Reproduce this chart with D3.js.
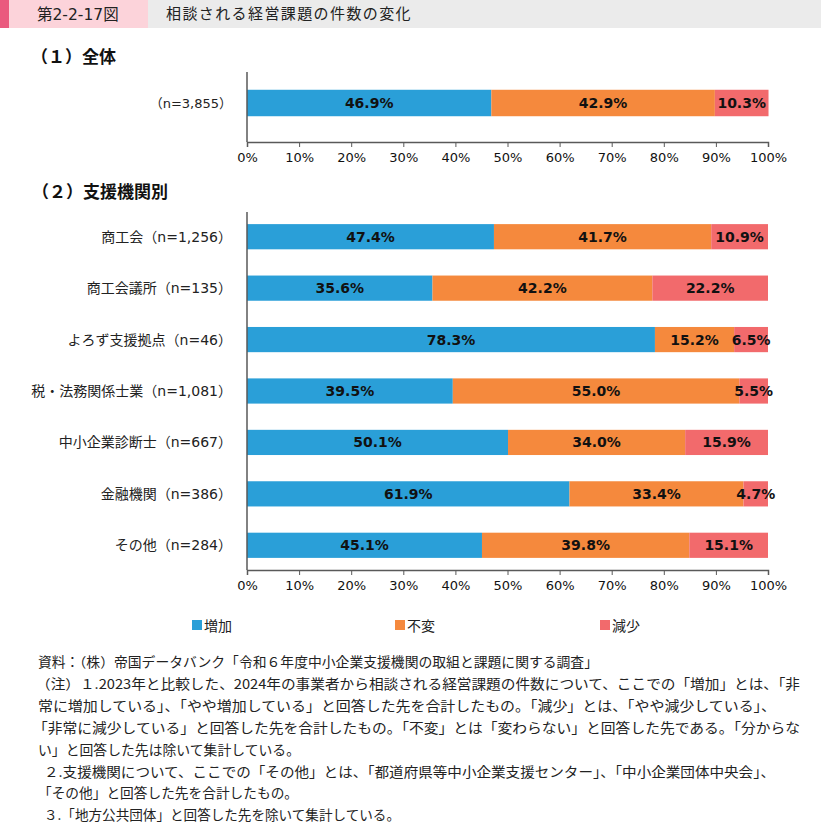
<!DOCTYPE html>
<html>
<head>
<meta charset="utf-8">
<script src="https://cdn.jsdelivr.net/npm/d3@7"></script>
<style>
  body { margin: 0; background: #fff; }
  svg text { font-family: "Noto Sans CJK JP", sans-serif; }
  svg text.num { font-family: "DejaVu Sans", Verdana, sans-serif; }
  svg text.mix { font-family: "DejaVu Sans", "Noto Sans CJK JP", sans-serif; }
</style>
</head>
<body>
<div id="chart"></div>
<script>
// data
var seriesNames = ["増加", "不変", "減少"];
var seriesColors = ["#2a9fd8", "#f5893d", "#f26a6c"];

var totalLabel = ["（n=3,855）"];
var totalInc = [46.9];
var totalSame = [42.9];
var totalDec = [10.3];

var orgLabels = ["商工会（n=1,256）", "商工会議所（n=135）", "よろず支援拠点（n=46）",
  "税・法務関係士業（n=1,081）", "中小企業診断士（n=667）", "金融機関（n=386）", "その他（n=284）"];
var orgInc = [47.4, 35.6, 78.3, 39.5, 50.1, 61.9, 45.1];
var orgSame = [41.7, 42.2, 15.2, 55.0, 34.0, 33.4, 39.8];
var orgDec = [10.9, 22.2, 6.5, 5.5, 15.9, 4.7, 15.1];

var tickValues = [0, 10, 20, 30, 40, 50, 60, 70, 80, 90, 100];

var notes = [
  "資料：（株）帝国データバンク「令和６年度中小企業支援機関の取組と課題に関する調査」",
  "（注）１.2023年と比較した、2024年の事業者から相談される経営課題の件数について、ここでの「増加」とは、「非",
  "常に増加している」、「やや増加している」と回答した先を合計したもの。「減少」とは、「やや減少している」、",
  "「非常に減少している」と回答した先を合計したもの。「不変」とは「変わらない」と回答した先である。「分からな",
  "い」と回答した先は除いて集計している。",
  "２.支援機関について、ここでの「その他」とは、「都道府県等中小企業支援センター」、「中小企業団体中央会」、",
  "「その他」と回答した先を合計したもの。",
  "３.「地方公共団体」と回答した先を除いて集計している。"
];

var W = 821, H = 824;
var svg = d3.select("#chart").append("svg")
  .attr("width", W).attr("height", H);

// header band
svg.append("rect").attr("x", 0).attr("y", 0).attr("width", W).attr("height", 28).attr("fill", "#ebebeb");
svg.append("rect").attr("x", 0).attr("y", 0).attr("width", 148).attr("height", 28).attr("fill", "#fcd3da");
svg.append("rect").attr("x", 0).attr("y", 0).attr("width", 9).attr("height", 28).attr("fill", "#ea5a7e");
svg.append("text").attr("class", "mix").attr("x", 37).attr("y", 19.5).attr("font-size", 15.5)
  .attr("fill", "#222").text("第2-2-17図");
svg.append("text").attr("x", 166).attr("y", 19).attr("font-size", 15).attr("letter-spacing", 1.4)
  .attr("fill", "#222").text("相談される経営課題の件数の変化");

svg.append("text").attr("x", 31).attr("y", 63).attr("font-size", 17).attr("font-weight", "bold")
  .attr("fill", "#111").text("（１）全体");
svg.append("text").attr("x", 32).attr("y", 198).attr("font-size", 17).attr("font-weight", "bold")
  .attr("fill", "#111").text("（２）支援機関別");

var x = d3.scaleLinear().domain([0, 100]).range([247, 768]);

function drawPanel(labels, inc, same, dec, yRange, axisTop, axisY) {
  var rows = labels.map(function(l, i) {
    return { label: l, vals: [inc[i], same[i], dec[i]] };
  });
  var y = d3.scaleBand().domain(labels).range(yRange).paddingInner(0.51).paddingOuter(0.255);
  var g = svg.append("g");

  rows.forEach(function(r) {
    var start = 0;
    r.vals.forEach(function(v, k) {
      g.append("rect")
        .attr("x", x(start)).attr("y", y(r.label))
        .attr("width", x(start + v) - x(start)).attr("height", y.bandwidth())
        .attr("fill", seriesColors[k]);
      g.append("text").attr("class", "num")
        .attr("x", x(start + v / 2)).attr("y", y(r.label) + y.bandwidth() / 2 + 5)
        .attr("text-anchor", "middle").attr("font-size", 14).attr("font-weight", "bold")
        .attr("fill", "#111").text(v.toFixed(1) + "%");
      start += v;
    });
    g.append("text").attr("class", "mix")
      .attr("x", 232).attr("y", y(r.label) + y.bandwidth() / 2 + 5)
      .attr("text-anchor", "end").attr("font-size", labels.length > 1 ? 14 : 13)
      .attr("fill", "#222").text(r.label);
  });

  // vertical axis line
  g.append("line").attr("x1", 247).attr("x2", 247).attr("y1", axisTop).attr("y2", axisY)
    .attr("stroke", "#595959").attr("stroke-width", 1.5);

  var ax = g.append("g").attr("transform", "translate(0," + axisY + ")")
    .call(d3.axisBottom(x).tickValues(tickValues).tickSize(5).tickFormat(function(d) { return d + "%"; }));
  ax.select(".domain").attr("stroke", "#595959").attr("stroke-width", 1.5);
  ax.selectAll(".tick line").attr("stroke", "#595959");
  ax.selectAll(".tick text").attr("class", "num").attr("font-size", 13).attr("fill", "#111").attr("dy", "0.9em");
}

drawPanel(totalLabel, totalInc, totalSame, totalDec, [76, 130], 72, 142);
drawPanel(orgLabels, orgInc, orgSame, orgDec, [211, 571], 212, 570);

// legend
var legendX = [192, 395, 600];
seriesNames.forEach(function(n, k) {
  svg.append("rect").attr("x", legendX[k]).attr("y", 620).attr("width", 10).attr("height", 10)
    .attr("fill", seriesColors[k]);
  svg.append("text").attr("x", legendX[k] + 12).attr("y", 631).attr("font-size", 14)
    .attr("fill", "#222").text(n);
});

// notes
var noteX = [38, 36, 38, 33, 38, 44, 38, 44];
var noteEnd = [598, 800, 776, 800, 300, 775, 298, 400];
notes.forEach(function(t, i) {
  svg.append("text").attr("x", noteX[i]).attr("y", 667 + i * 21.9)
    .attr("font-size", 13.5).attr("fill", "#222")
    .attr("textLength", noteEnd[i] - noteX[i]).attr("lengthAdjust", "spacingAndGlyphs")
    .text(t);
});
</script>
</body>
</html>
